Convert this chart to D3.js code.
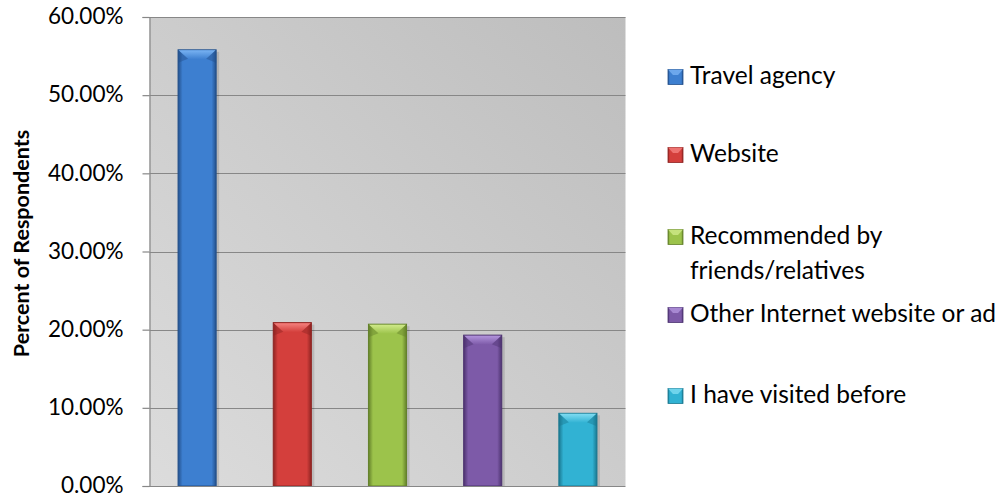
<!DOCTYPE html>
<html>
<head>
<meta charset="utf-8">
<script src="https://cdn.jsdelivr.net/npm/d3@7"></script>
<style>
  html, body { margin: 0; padding: 0; background: #ffffff; }
  svg { display: block; }
  text { font-family: Lato, "Open Sans", sans-serif; fill: #000; }
</style>
</head>
<body>
<script>
// Survey: how respondents heard about the destination
const categories = ["Travel agency", "Website", "Recommended by friends/relatives", "Other Internet website or ad", "I have visited before"];
const values = [0.558, 0.209, 0.207, 0.193, 0.093];
const legendLines = [["Travel agency"], ["Website"], ["Recommended by", "friends/relatives"], ["Other Internet website or ad"], ["I have visited before"]];
const yTicks = [0, 0.1, 0.2, 0.3, 0.4, 0.5, 0.6];
const yTitle = "Percent of Respondents";

// base, light, dark shade per series
const palette = [
  { base: "#3d7fd0", light: "#78b2f2", dark: "#23508c" },
  { base: "#d43f3c", light: "#f4817e", dark: "#8f2422" },
  { base: "#9cc34b", light: "#d0ea8a", dark: "#63802a" },
  { base: "#7d5aa8", light: "#b294dc", dark: "#4d3370" },
  { base: "#31b2d3", light: "#7fdcf2", dark: "#1a7890" }
];

const W = 1002, H = 495;
const plot = { left: 149.5, right: 625.5, top: 17, bottom: 486 };

const svg = d3.select("body").append("svg").attr("width", W).attr("height", H);
const defs = svg.append("defs");

// plot background: light lower-left to darker upper-right
const bg = defs.append("linearGradient").attr("id", "plotBg")
  .attr("x1", "0%").attr("y1", "100%").attr("x2", "100%").attr("y2", "0%");
bg.append("stop").attr("offset", "0%").attr("stop-color", "#dcdcdc");
bg.append("stop").attr("offset", "100%").attr("stop-color", "#bdbdbd");

palette.forEach((c, i) => {
  const g = defs.append("linearGradient").attr("id", "bar" + i)
    .attr("x1", "0%").attr("y1", "0%").attr("x2", "100%").attr("y2", "0%");
  g.append("stop").attr("offset", "0%").attr("stop-color", c.dark);
  g.append("stop").attr("offset", "12%").attr("stop-color", c.base);
  g.append("stop").attr("offset", "50%").attr("stop-color", c.base);
  g.append("stop").attr("offset", "88%").attr("stop-color", c.base);
  g.append("stop").attr("offset", "100%").attr("stop-color", c.dark);
  const t = defs.append("linearGradient").attr("id", "top" + i)
    .attr("x1", "0%").attr("y1", "0%").attr("x2", "0%").attr("y2", "100%");
  t.append("stop").attr("offset", "0%").attr("stop-color", c.light);
  t.append("stop").attr("offset", "100%").attr("stop-color", c.base);
});

const x = d3.scaleBand().domain(categories)
  .range([plot.left, plot.right]).paddingInner(0.6).paddingOuter(0.3);
const y = d3.scaleLinear().domain([0, 0.6]).range([plot.bottom, plot.top]);

svg.append("rect")
  .attr("x", plot.left).attr("y", plot.top)
  .attr("width", plot.right - plot.left).attr("height", plot.bottom - plot.top)
  .attr("fill", "url(#plotBg)");

// gridlines
svg.append("g").selectAll("line").data(yTicks.filter(d => d > 0)).join("line")
  .attr("x1", plot.left).attr("x2", plot.right)
  .attr("y1", d => Math.round(y(d)) + 0.5).attr("y2", d => Math.round(y(d)) + 0.5)
  .attr("stroke", "#878787").attr("stroke-width", 1.2);

// y axis
const yAxis = d3.axisLeft(y).tickValues(yTicks).tickSize(7).tickPadding(19)
  .tickFormat(d => (d * 100).toFixed(2) + "%");
const ya = svg.append("g").attr("transform", `translate(${plot.left},0)`).call(yAxis);
ya.select(".domain").attr("stroke", "#878787").attr("stroke-width", 1.2);
ya.selectAll(".tick line").attr("stroke", "#878787").attr("stroke-width", 1.2);
ya.selectAll(".tick text").attr("font-family", "Lato, sans-serif").attr("font-size", 22.5)
  .attr("fill", "#000").attr("dy", "0.3em");

// bars with bevelled top
const bw = x.bandwidth();
const bars = svg.append("g").selectAll("g").data(categories).join("g")
  .attr("transform", d => `translate(${x(d)},0)`);
// soft shadow on the right
bars.append("rect")
  .attr("x", 2).attr("width", bw + 1)
  .attr("y", (d, i) => y(values[i]) + 2)
  .attr("height", (d, i) => y(0) - y(values[i]) - 2)
  .attr("fill", "#000").attr("opacity", 0.12);
bars.append("rect")
  .attr("x", 0).attr("width", bw)
  .attr("y", (d, i) => y(values[i]))
  .attr("height", (d, i) => y(0) - y(values[i]))
  .attr("fill", (d, i) => `url(#bar${i})`)
  .attr("stroke", (d, i) => palette[i].dark).attr("stroke-width", 1);
bars.append("path")
  .attr("d", (d, i) => {
    const t = y(values[i]) + 0.5, b = 9, s = 10;
    return `M0.5,${t}L${bw - 0.5},${t}L${bw - s},${t + b}L${s},${t + b}Z`;
  })
  .attr("fill", (d, i) => `url(#top${i})`);
bars.append("path")
  .attr("d", (d, i) => {
    const t = y(values[i]), b = 9, s = 10;
    return `M0,${t}L${s},${t + b}L0,${t + b + 4}Z M${bw},${t}L${bw - s},${t + b}L${bw},${t + b + 4}Z`;
  })
  .attr("fill", (d, i) => palette[i].dark).attr("opacity", 0.45);

// x axis line
svg.append("line")
  .attr("x1", plot.left).attr("x2", plot.right)
  .attr("y1", plot.bottom + 0.5).attr("y2", plot.bottom + 0.5)
  .attr("stroke", "#878787").attr("stroke-width", 1.2);

// y title
svg.append("text")
  .attr("transform", `translate(29,${(plot.top + plot.bottom) / 2 - 8}) rotate(-90)`)
  .attr("text-anchor", "middle")
  .attr("font-size", 21.5).attr("font-weight", "bold")
  .text(yTitle);

// legend
const legendY = [77, 155, 237, 315, 396];
const leg = svg.append("g").selectAll("g").data(categories).join("g")
  .attr("transform", (d, i) => `translate(668,${legendY[i]})`);
leg.append("rect")
  .attr("x", 0).attr("y", -7.5).attr("width", 15).attr("height", 15)
  .attr("fill", (d, i) => `url(#bar${i})`)
  .attr("stroke", (d, i) => palette[i].dark).attr("stroke-width", 0.8);
leg.append("path")
  .attr("d", "M0,-7.5L15,-7.5L10,-2L5,-2Z")
  .attr("fill", (d, i) => palette[i].light).attr("opacity", 0.8);
leg.append("text")
  .attr("x", 22).attr("y", 0)
  .attr("font-size", 24.5)
  .selectAll("tspan").data((d, i) => legendLines[i]).join("tspan")
  .attr("x", 22).attr("dy", (d, j) => j === 0 ? "0.3em" : "1.42em")
  .text(d => d);
</script>
</body>
</html>
